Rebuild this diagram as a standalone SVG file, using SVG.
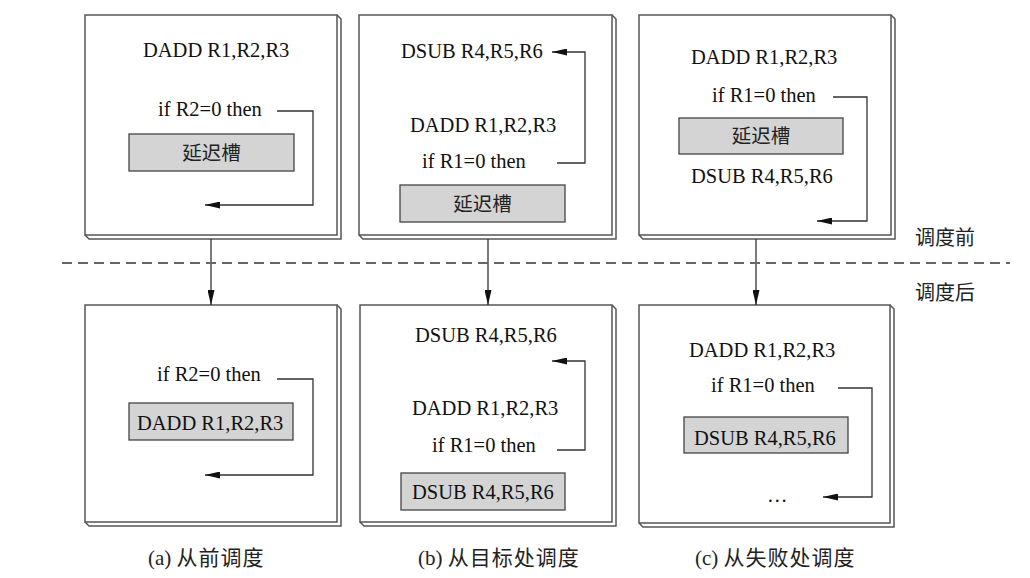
<svg xmlns="http://www.w3.org/2000/svg" width="1030" height="578" viewBox="0 0 1030 578">
<style>
.box{fill:#fff;stroke:#555;stroke-width:1.5}
.sh{fill:none;stroke:#555;stroke-width:1.5}
.slot{fill:#d4d4d4;stroke:#444;stroke-width:1.3}
.t{font-family:'Liberation Serif','Times New Roman',serif;font-size:20.5px;fill:#111}
.k{font-family:'Noto Sans CJK SC',sans-serif;font-size:20px;fill:#222}
.c{font-family:'Noto Sans CJK SC',sans-serif;font-size:19.5px;fill:#222;text-anchor:middle}
.cap{font-family:'Liberation Serif','Noto Sans CJK SC',serif;font-size:21px;fill:#222}
.cj{font-family:'Noto Sans CJK SC',sans-serif;letter-spacing:1px}
.ln{fill:none;stroke:#333;stroke-width:1.3}
.dash{stroke:#666;stroke-width:2;stroke-dasharray:10 6}
</style>
<defs>
<marker id="ah" markerUnits="userSpaceOnUse" markerWidth="15" markerHeight="7" refX="15" refY="3.5" orient="auto">
<path d="M0,0 L15,3.5 L0,7 z" fill="#111"/>
</marker>
</defs>
<rect width="1030" height="578" fill="#fff"/>

<g id="boxA1">
<polyline class="sh" points="337,15 341,19 341,239 89,239 85,235"/>
<rect class="box" x="85" y="15" width="252" height="220"/>
<text class="t" x="143" y="57">DADD R1,R2,R3</text>
<text class="t" x="158" y="116">if R2=0 then</text>
<rect class="slot" x="129" y="134" width="165" height="37"/>
<text class="c" x="211.5" y="160">延迟槽</text>
</g>
<g id="boxB1">
<polyline class="sh" points="612,15 616,19 616,239 363,239 359,235"/>
<rect class="box" x="359" y="15" width="253" height="220"/>
<text class="t" x="401" y="58">DSUB R4,R5,R6</text>
<text class="t" x="410" y="132">DADD R1,R2,R3</text>
<text class="t" x="422" y="168">if R1=0 then</text>
<rect class="slot" x="400" y="185" width="165" height="37"/>
<text class="c" x="482.5" y="211">延迟槽</text>
</g>
<g id="boxC1">
<polyline class="sh" points="891,15 895,19 895,239 643,239 639,235"/>
<rect class="box" x="639" y="15" width="252" height="220"/>
<text class="t" x="691" y="64">DADD R1,R2,R3</text>
<text class="t" x="712" y="102">if R1=0 then</text>
<rect class="slot" x="679" y="118" width="164" height="36"/>
<text class="c" x="761" y="143">延迟槽</text>
<text class="t" x="691" y="183">DSUB R4,R5,R6</text>
</g>

<g id="boxA2">
<polyline class="sh" points="337,305 341,309 341,526 89,526 85,522"/>
<rect class="box" x="85" y="305" width="252" height="217"/>
<text class="t" x="157" y="381">if R2=0 then</text>
<rect class="slot" x="129" y="403" width="164" height="37"/>
<text class="t" x="137" y="430">DADD R1,R2,R3</text>
</g>
<g id="boxB2">
<polyline class="sh" points="612,305 616,309 616,526 364,526 360,522"/>
<rect class="box" x="360" y="305" width="252" height="217"/>
<text class="t" x="415" y="342">DSUB R4,R5,R6</text>
<text class="t" x="412" y="415">DADD R1,R2,R3</text>
<text class="t" x="432" y="452">if R1=0 then</text>
<rect class="slot" x="401" y="473" width="164" height="37"/>
<text class="t" x="412" y="499">DSUB R4,R5,R6</text>
</g>
<g id="boxC2">
<polyline class="sh" points="890,305 894,309 894,527 643,527 639,523"/>
<rect class="box" x="639" y="305" width="251" height="218"/>
<text class="t" x="689" y="357">DADD R1,R2,R3</text>
<text class="t" x="711" y="392">if R1=0 then</text>
<rect class="slot" x="684" y="417" width="164" height="36"/>
<text class="t" x="694" y="445">DSUB R4,R5,R6</text>
<text class="t" x="767" y="502">…</text>
</g>

<g id="connectors">
<polyline class="ln" points="277,111 313,111 313,205 205,205" marker-end="url(#ah)"/>
<polyline class="ln" points="557,163 585,163 585,52 552,52" marker-end="url(#ah)"/>
<polyline class="ln" points="833,97 867,97 867,221 817,221" marker-end="url(#ah)"/>
<polyline class="ln" points="277,379 313,379 313,475 205,475" marker-end="url(#ah)"/>
<polyline class="ln" points="557,450 585,450 585,361 552,361" marker-end="url(#ah)"/>
<polyline class="ln" points="838,388 872,388 872,497 823,497" marker-end="url(#ah)"/>
<line class="ln" x1="211" y1="239" x2="211" y2="305" marker-end="url(#ah)"/>
<line class="ln" x1="488" y1="239" x2="488" y2="305" marker-end="url(#ah)"/>
<line class="ln" x1="756" y1="239" x2="756" y2="305" marker-end="url(#ah)"/>
</g>

<line class="dash" x1="62" y1="263" x2="1010" y2="263"/>
<text class="k" x="915" y="245">调度前</text>
<text class="k" x="915" y="300">调度后</text>

<text class="cap" x="148" y="565">(a) <tspan class="cj">从前调度</tspan></text>
<text class="cap" x="418" y="565">(b) <tspan class="cj">从目标处调度</tspan></text>
<text class="cap" x="695" y="565">(c) <tspan class="cj">从失败处调度</tspan></text>
</svg>
